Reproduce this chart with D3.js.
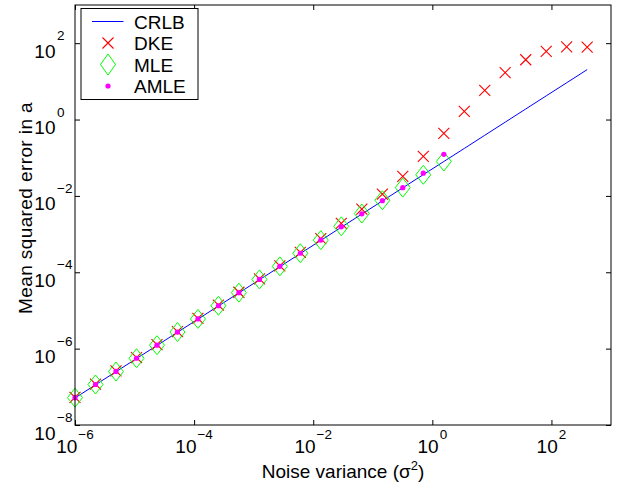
<!DOCTYPE html>
<html>
<head>
<meta charset="utf-8">
<script src="https://cdn.jsdelivr.net/npm/d3@7"></script>
<style>
  body { margin: 0; background: #fff; }
  text { font-family: "Liberation Sans", Arial, Helvetica, sans-serif; fill: #000; }
</style>
</head>
<body>
<div id="chart"></div>
<script>
// noise variance values (x)
const sigma2 = [1e-6, 2.21e-6, 4.88e-6, 1.08e-5, 2.38e-5, 5.25e-5, 1.16e-4, 2.56e-4, 5.65e-4,
  1.25e-3, 2.75e-3, 6.08e-3, 1.34e-2, 2.96e-2, 6.55e-2, 0.145, 0.319, 0.705, 1.56, 3.44,
  7.59, 16.7, 37.0, 81.7, 180, 398];

const crlb = [5.1e-8, 1.13e-7, 2.49e-7, 5.51e-7, 1.21e-6, 2.68e-6, 5.92e-6, 1.31e-5, 2.88e-5,
  6.38e-5, 1.40e-4, 3.10e-4, 6.83e-4, 1.51e-3, 3.34e-3, 7.40e-3, 1.63e-2, 3.60e-2, 7.96e-2,
  0.175, 0.387, 0.852, 1.89, 4.17, 9.18, 20.3];

const dke = [5.3e-8, 1.18e-7, 2.6e-7, 5.8e-7, 1.27e-6, 2.8e-6, 6.2e-6, 1.37e-5, 3.0e-5,
  6.7e-5, 1.47e-4, 3.3e-4, 7.6e-4, 1.91e-3, 4.52e-3, 1.11e-2, 3.25e-2, 0.109, 0.433,
  1.64, 5.77, 16.9, 36.8, 60.8, 80.2, 78.7];

const mle = [5.2e-8, 1.15e-7, 2.52e-7, 5.6e-7, 1.23e-6, 2.72e-6, 6.0e-6, 1.33e-5, 2.93e-5,
  6.5e-5, 1.43e-4, 3.15e-4, 6.95e-4, 1.6e-3, 3.45e-3, 7.7e-3, 1.65e-2, 3.57e-2, 7.96e-2];

const amle = [5.2e-8, 1.15e-7, 2.53e-7, 5.6e-7, 1.23e-6, 2.72e-6, 6.0e-6, 1.33e-5, 2.93e-5,
  6.5e-5, 1.43e-4, 3.15e-4, 6.95e-4, 1.55e-3, 3.4e-3, 7.5e-3, 1.64e-2, 3.95e-2, 0.123];

const xTicks = [1e-6, 1e-4, 1e-2, 1, 1e2];
const xExps = ["\u22126", "\u22124", "\u22122", "0", "2"];
const yTicks = [1e-8, 1e-6, 1e-4, 1e-2, 1, 1e2];
const yExps = ["\u22128", "\u22126", "\u22124", "\u22122", "0", "2"];
const legendNames = ["CRLB", "DKE", "MLE", "AMLE"];

const W = 624, H = 488;
const plot = {left: 75, right: 611, top: 5, bottom: 425};

const svg = d3.select("#chart").append("svg")
  .attr("width", W)
  .attr("height", H);

const x = d3.scaleLog().domain([1e-6, 1e3]).range([plot.left, plot.right]);
const y = d3.scaleLog().domain([1e-8, 1e3]).range([plot.bottom, plot.top]);

const g = svg.append("g");

// CRLB line
const line = d3.line()
  .x(d => x(d[0]))
  .y(d => y(d[1]));

g.append("path")
  .datum(sigma2.map((s, i) => [s, crlb[i]]))
  .attr("d", line)
  .attr("fill", "none")
  .attr("stroke", "#0000ff")
  .attr("stroke-width", 1);

const xMark = 5.5;
function crossPath(cx, cy, r) {
  return `M${cx - r},${cy - r}L${cx + r},${cy + r}M${cx - r},${cy + r}L${cx + r},${cy - r}`;
}
function diamondPath(cx, cy, w, h) {
  return `M${cx},${cy - h}L${cx + w},${cy}L${cx},${cy + h}L${cx - w},${cy}Z`;
}

// DKE crosses
g.selectAll(".dke")
  .data(dke)
  .enter().append("path")
    .attr("class", "dke")
    .attr("d", (d, i) => crossPath(x(sigma2[i]), y(d), xMark))
    .attr("stroke", "#ff0000")
    .attr("stroke-width", 1.1)
    .attr("fill", "none");

// MLE diamonds
g.selectAll(".mle")
  .data(mle)
  .enter().append("path")
    .attr("class", "mle")
    .attr("d", (d, i) => diamondPath(x(sigma2[i]), y(d), 7.5, 9.5))
    .attr("stroke", "#00ff00")
    .attr("stroke-width", 1)
    .attr("fill", "none");

// AMLE dots
g.selectAll(".amle")
  .data(amle)
  .enter().append("circle")
    .attr("class", "amle")
    .attr("cx", (d, i) => x(sigma2[i]))
    .attr("cy", d => y(d))
    .attr("r", 2.6)
    .attr("fill", "#ff00ff");

// axes with inward ticks
const tickLen = 5;
svg.append("g")
  .attr("transform", `translate(0,${plot.bottom})`)
  .call(d3.axisBottom(x).tickValues(xTicks).tickSize(-tickLen).tickFormat(""));
svg.append("g")
  .attr("transform", `translate(0,${plot.top})`)
  .call(d3.axisTop(x).tickValues(xTicks).tickSize(-tickLen).tickFormat(""));
svg.append("g")
  .attr("transform", `translate(${plot.left},0)`)
  .call(d3.axisLeft(y).tickValues(yTicks).tickSize(-tickLen).tickFormat(""));
svg.append("g")
  .attr("transform", `translate(${plot.right},0)`)
  .call(d3.axisRight(y).tickValues(yTicks).tickSize(-tickLen).tickFormat(""));
svg.selectAll(".domain").remove();
svg.selectAll(".tick line").attr("stroke", "#000");

// frame
svg.append("rect")
  .attr("x", plot.left).attr("y", plot.top)
  .attr("width", plot.right - plot.left).attr("height", plot.bottom - plot.top)
  .attr("fill", "none")
  .attr("stroke", "#000")
  .attr("stroke-width", 1);

// tick labels, 10 with superscript exponent, centred under tick
xTicks.forEach((t, i) => {
  const lbl = svg.append("text")
    .attr("x", x(t)).attr("y", plot.bottom + 28)
    .attr("text-anchor", "middle")
    .style("font-size", "19px");
  lbl.append("tspan").text("10");
  lbl.append("tspan").attr("dx", 1).attr("dy", -14).style("font-size", "13.5px").text(xExps[i]);
});

yTicks.forEach((t, i) => {
  const ty = y(t);
  svg.append("text")
    .attr("x", 55.5).attr("y", ty + 14.5)
    .attr("text-anchor", "end")
    .style("font-size", "19px")
    .text("10");
  svg.append("text")
    .attr("x", 57).attr("y", ty - 3)
    .attr("text-anchor", "start")
    .style("font-size", "13.5px")
    .text(yExps[i]);
});

// axis titles
const xt = svg.append("text")
  .attr("x", (plot.left + plot.right) / 2).attr("y", 478)
  .attr("text-anchor", "middle")
  .style("font-size", "19px");
xt.append("tspan").text("Noise variance (\u03c3");
xt.append("tspan").attr("dy", -8).style("font-size", "13px").text("2");
xt.append("tspan").attr("dy", 8).text(")");

svg.append("text")
  .attr("transform", `translate(31.5,${(plot.top + plot.bottom) / 2 - 7}) rotate(-90)`)
  .attr("text-anchor", "middle")
  .style("font-size", "19px")
  .style("letter-spacing", "0.4px")
  .text("Mean squared error in a");

// legend
const lg = svg.append("g");
lg.append("rect")
  .attr("x", 81).attr("y", 8.5)
  .attr("width", 117).attr("height", 91)
  .attr("fill", "#fff")
  .attr("stroke", "#000")
  .attr("stroke-width", 1);

const rowY = [21.5, 43, 64.5, 86];
const sx = 108;
lg.append("line")
  .attr("x1", 92).attr("x2", 123.5)
  .attr("y1", rowY[0]).attr("y2", rowY[0])
  .attr("stroke", "#0000ff");
lg.append("path")
  .attr("d", crossPath(sx, rowY[1], xMark))
  .attr("stroke", "#ff0000")
  .attr("stroke-width", 1.1)
  .attr("fill", "none");
lg.append("path")
  .attr("d", diamondPath(sx, rowY[2], 7.5, 10.5))
  .attr("stroke", "#00ff00")
  .attr("fill", "none");
lg.append("circle")
  .attr("cx", sx).attr("cy", rowY[3])
  .attr("r", 2.6)
  .attr("fill", "#ff00ff");

legendNames.forEach((n, i) => {
  lg.append("text")
    .attr("x", 134).attr("y", rowY[i] + 7)
    .style("font-size", "19px")
    .text(n);
});
</script>
</body>
</html>
